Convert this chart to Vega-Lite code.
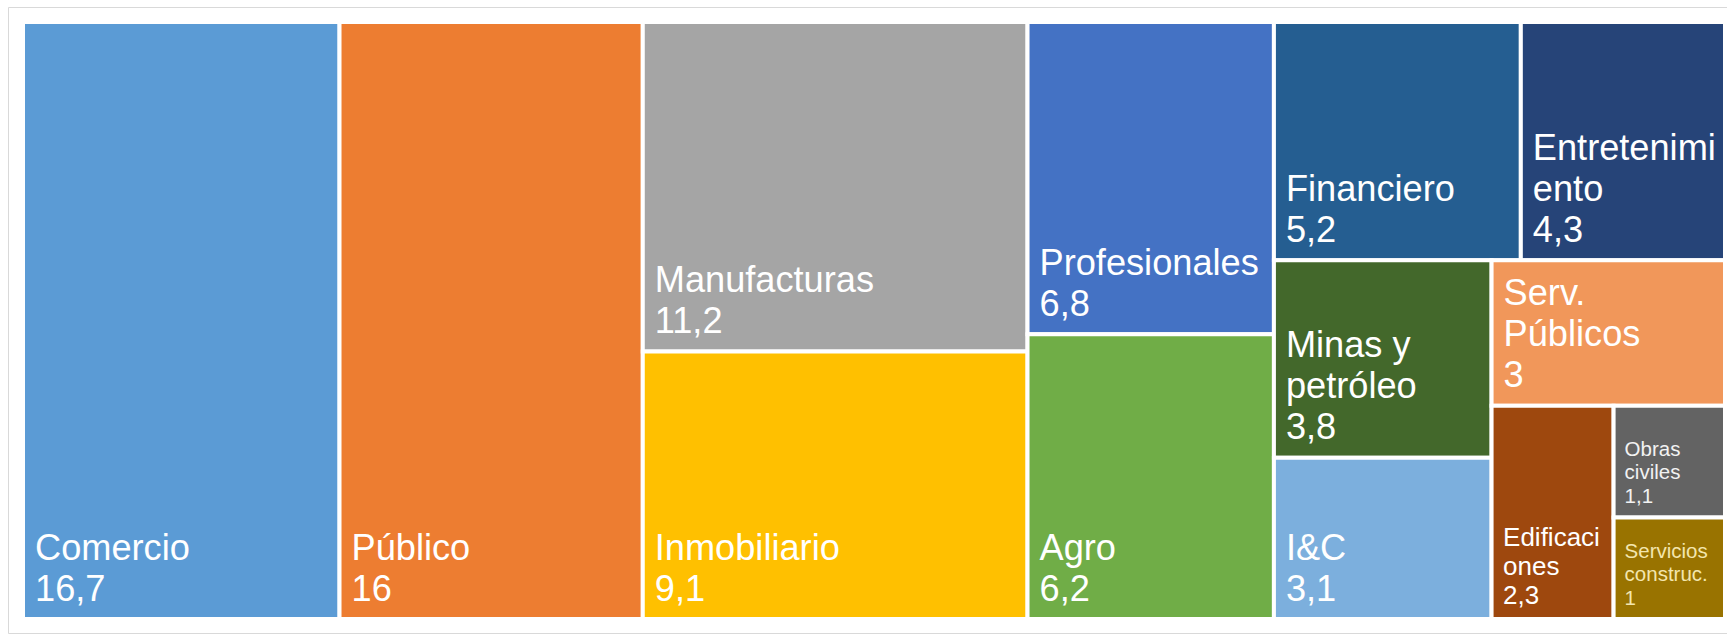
{
  "$schema": "https://vega.github.io/schema/vega-lite/v6.json",
  "width": 1719,
  "height": 626,
  "autosize": {"type": "none"},
  "padding": {"left": 8, "top": 7, "right": 0, "bottom": 3},
  "background": "white",
  "config": {"view": {"stroke": "#d9d9d9", "strokeWidth": 1}},
  "data": {"values": [
    {"n": "Comercio", "lab": "Comercio", "v": 16.7, "p1": "Comercio", "p2": "Comercio", "p3": "Comercio", "p4": "Comercio", "p5": "Comercio", "p6": "Comercio"},
    {"n": "Público", "lab": "Público", "v": 16, "p1": "Público", "p2": "Público", "p3": "Público", "p4": "Público", "p5": "Público", "p6": "Público"},
    {"n": "Manufacturas", "lab": "Manufacturas", "v": 11.2, "p1": "C", "p2": "Manufacturas", "p3": "Manufacturas", "p4": "Manufacturas", "p5": "Manufacturas", "p6": "Manufacturas"},
    {"n": "Inmobiliario", "lab": "Inmobiliario", "v": 9.1, "p1": "C", "p2": "Inmobiliario", "p3": "Inmobiliario", "p4": "Inmobiliario", "p5": "Inmobiliario", "p6": "Inmobiliario"},
    {"n": "Profesionales", "lab": "Profesionales", "v": 6.8, "p1": "D", "p2": "Profesionales", "p3": "Profesionales", "p4": "Profesionales", "p5": "Profesionales", "p6": "Profesionales"},
    {"n": "Agro", "lab": "Agro", "v": 6.2, "p1": "D", "p2": "Agro", "p3": "Agro", "p4": "Agro", "p5": "Agro", "p6": "Agro"},
    {"n": "Financiero", "lab": "Financiero", "v": 5.2, "p1": "E", "p2": "FE", "p3": "Financiero", "p4": "Financiero", "p5": "Financiero", "p6": "Financiero"},
    {"n": "Entretenimiento", "lab": "Entretenimi\nento", "v": 4.3, "p1": "E", "p2": "FE", "p3": "Entretenimiento", "p4": "Entretenimiento", "p5": "Entretenimiento", "p6": "Entretenimiento"},
    {"n": "Minas y petróleo", "lab": "Minas y\npetróleo", "v": 3.8, "p1": "E", "p2": "R", "p3": "MI", "p4": "Minas", "p5": "Minas", "p6": "Minas"},
    {"n": "I&C", "lab": "I&C", "v": 3.1, "p1": "E", "p2": "R", "p3": "MI", "p4": "IC", "p5": "IC", "p6": "IC"},
    {"n": "Serv. Públicos", "lab": "Serv.\nPúblicos", "v": 3, "p1": "E", "p2": "R", "p3": "R2", "p4": "Serv", "p5": "Serv", "p6": "Serv"},
    {"n": "Edificaciones", "lab": "Edificaci\nones", "v": 2.3, "p1": "E", "p2": "R", "p3": "R2", "p4": "R3", "p5": "Edif", "p6": "Edif"},
    {"n": "Obras civiles", "lab": "Obras\nciviles", "v": 1.1, "p1": "E", "p2": "R", "p3": "R2", "p4": "R3", "p5": "OS", "p6": "Obras"},
    {"n": "Servicios construc.", "lab": "Servicios\nconstruc.", "v": 1, "p1": "E", "p2": "R", "p3": "R2", "p4": "R3", "p5": "OS", "p6": "ServC"}
  ]},
  "transform": [
    {"stack": "v", "groupby": [], "sort": [{"field": "v", "order": "descending"}], "offset": "normalize", "as": ["s1", "e1"]},
    {"joinaggregate": [{"op": "min", "field": "s1", "as": "a1"}, {"op": "max", "field": "e1", "as": "b1"}], "groupby": ["p1"]},
    {"calculate": "datum.a1", "as": "x0"},
    {"calculate": "datum.b1 - datum.a1", "as": "w"},
    {"stack": "v", "groupby": ["p1"], "sort": [{"field": "v", "order": "descending"}], "offset": "normalize", "as": ["s2", "e2"]},
    {"joinaggregate": [{"op": "min", "field": "s2", "as": "a2"}, {"op": "max", "field": "e2", "as": "b2"}], "groupby": ["p2"]},
    {"calculate": "datum.a2", "as": "y0"},
    {"calculate": "datum.b2 - datum.a2", "as": "h"},
    {"stack": "v", "groupby": ["p2"], "sort": [{"field": "v", "order": "descending"}], "offset": "normalize", "as": ["s3", "e3"]},
    {"joinaggregate": [{"op": "min", "field": "s3", "as": "a3"}, {"op": "max", "field": "e3", "as": "b3"}], "groupby": ["p3"]},
    {"calculate": "datum.x0 + datum.a3 * datum.w", "as": "x0"},
    {"calculate": "(datum.b3 - datum.a3) * datum.w", "as": "w"},
    {"stack": "v", "groupby": ["p3"], "sort": [{"field": "v", "order": "descending"}], "offset": "normalize", "as": ["s4", "e4"]},
    {"joinaggregate": [{"op": "min", "field": "s4", "as": "a4"}, {"op": "max", "field": "e4", "as": "b4"}], "groupby": ["p4"]},
    {"calculate": "datum.y0 + datum.a4 * datum.h", "as": "y0"},
    {"calculate": "(datum.b4 - datum.a4) * datum.h", "as": "h"},
    {"stack": "v", "groupby": ["p4"], "sort": [{"field": "v", "order": "descending"}], "offset": "normalize", "as": ["s5", "e5"]},
    {"joinaggregate": [{"op": "min", "field": "s5", "as": "a5"}, {"op": "max", "field": "e5", "as": "b5"}], "groupby": ["p5"]},
    {"calculate": "datum.x0 + datum.a5 * datum.w", "as": "x0"},
    {"calculate": "(datum.b5 - datum.a5) * datum.w", "as": "w"},
    {"stack": "v", "groupby": ["p5"], "sort": [{"field": "v", "order": "descending"}], "offset": "normalize", "as": ["s6", "e6"]},
    {"joinaggregate": [{"op": "min", "field": "s6", "as": "a6"}, {"op": "max", "field": "e6", "as": "b6"}], "groupby": ["p6"]},
    {"calculate": "datum.y0 + datum.a6 * datum.h", "as": "y0"},
    {"calculate": "(datum.b6 - datum.a6) * datum.h", "as": "h"},
    {"calculate": "datum.x0 + datum.w", "as": "x2"},
    {"calculate": "datum.y0 + datum.h", "as": "y2"},
    {"calculate": "replace(toString(datum.v), '.', ',') + '\\n' + join(reverse(split(datum.lab, '\\n')), '\\n')", "as": "txt"}
  ],
  "encoding": {
    "x": {"field": "x0", "type": "quantitative", "axis": null, "scale": {"domain": [-0.008813, 1.001175], "nice": false, "zero": false}},
    "y": {"field": "y0", "type": "quantitative", "axis": null, "scale": {"domain": [-0.025126, 1.02345], "nice": false, "zero": false, "reverse": true}}
  },
  "layer": [
    {
      "mark": {"type": "rect", "stroke": "white", "strokeWidth": 4},
      "encoding": {
        "x2": {"field": "x2"},
        "y2": {"field": "y2"},
        "color": {
          "field": "n", "type": "nominal", "legend": null,
          "scale": {
            "domain": ["Comercio", "Público", "Manufacturas", "Inmobiliario", "Profesionales", "Agro", "Financiero", "Entretenimiento", "Minas y petróleo", "I&C", "Serv. Públicos", "Edificaciones", "Obras civiles", "Servicios construc."],
            "range": ["#5B9BD5", "#ED7D31", "#A5A5A5", "#FFC000", "#4472C4", "#70AD47", "#255E91", "#264478", "#43682B", "#7CAFDD", "#F1975A", "#9E480E", "#636363", "#997300"]
          }
        }
      }
    },
    {
      "transform": [{"filter": "datum.v >= 2.8"}],
      "mark": {"type": "text", "align": "left", "baseline": "bottom", "lineBreak": "\n", "font": "Liberation Sans", "fontSize": 36.2, "lineHeight": -41, "dx": 12, "dy": -10.5, "fill": "white"},
      "encoding": {"y": {"field": "y2", "type": "quantitative"}, "text": {"field": "txt"}}
    },
    {
      "transform": [{"filter": "datum.v >= 2 && datum.v < 2.8"}],
      "mark": {"type": "text", "align": "left", "baseline": "bottom", "lineBreak": "\n", "font": "Liberation Sans", "fontSize": 26, "lineHeight": -29, "dx": 11.5, "dy": -10.5, "fill": "white"},
      "encoding": {"y": {"field": "y2", "type": "quantitative"}, "text": {"field": "txt"}}
    },
    {
      "transform": [{"filter": "datum.v < 2"}],
      "mark": {"type": "text", "align": "left", "baseline": "bottom", "lineBreak": "\n", "font": "Liberation Sans", "fontSize": 20.5, "lineHeight": -23.5, "dx": 11, "dy": -10.5},
      "encoding": {
        "y": {"field": "y2", "type": "quantitative"},
        "text": {"field": "txt"},
        "fill": {"condition": {"test": "datum.n === 'Servicios construc.'", "value": "#F3E6AE"}, "value": "#F2F2F2"}
      }
    }
  ]
}
